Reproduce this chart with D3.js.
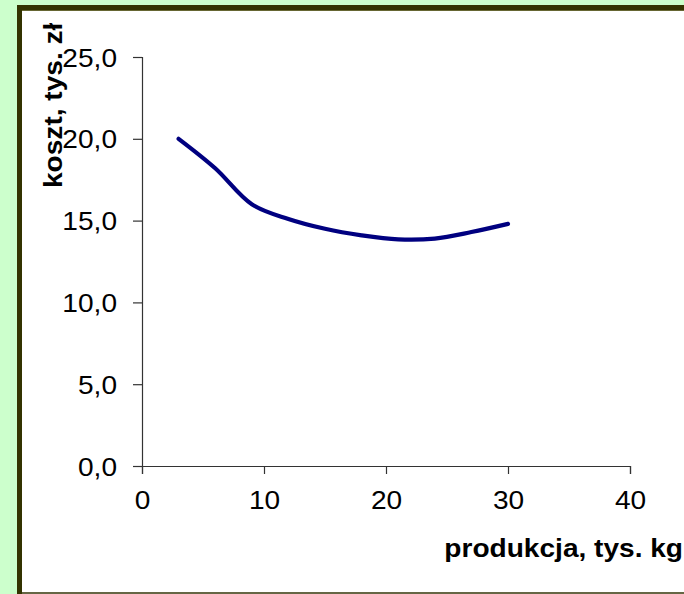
<!DOCTYPE html>
<html>
<head>
<meta charset="utf-8">
<script src="https://cdn.jsdelivr.net/npm/d3@7"></script>
<style>
  html, body { margin: 0; padding: 0; background: #ccffcc; }
  svg { display: block; }
  text { font-family: "Liberation Sans", Arial, sans-serif; fill: #000; }
</style>
</head>
<body>
<svg id="chart" width="684" height="594"></svg>
<script>
// ---- data ----
const production = [3, 6, 9, 12, 15, 18, 21, 24, 27, 30];
const cost = [20.0, 18.2, 16.0, 15.1, 14.5, 14.1, 13.85, 13.9, 14.3, 14.8];
const xTicks = [0, 10, 20, 30, 40];
const yTicks = [0, 5, 10, 15, 20, 25];
const xTitle = "produkcja, tys. kg";
const yTitle = "koszt, tys. zł";

const svg = d3.select("#chart");
const W = 684, H = 594;
const stretch = 1.08;
const fs = "26px";

// frame
svg.append("rect").attr("x", 0).attr("y", 0).attr("width", W).attr("height", H).attr("fill", "#ccffcc");
svg.append("rect").attr("x", 17).attr("y", 5).attr("width", W - 17).attr("height", H - 5).attr("fill", "#ffffff");
svg.append("rect").attr("x", 17).attr("y", 5).attr("width", 5).attr("height", H - 5).attr("fill", "#333300");
svg.append("rect").attr("x", 17).attr("y", 5).attr("width", W - 17).attr("height", 5).attr("fill", "#333300");
svg.append("rect").attr("x", 22).attr("y", 10).attr("width", W - 22).attr("height", 1).attr("fill", "#666633");
svg.append("rect").attr("x", 22).attr("y", 592).attr("width", W - 22).attr("height", 2).attr("fill", "#666644");

// scales
const x = d3.scaleLinear().domain([0, 40]).range([142, 630]);
const y = d3.scaleLinear().domain([0, 25]).range([466, 57]);
const fmt = v => d3.format(".1f")(v).replace(".", ",");

// y axis
const gy = svg.append("g").attr("transform", `translate(${x(0)},0)`)
  .call(d3.axisLeft(y).tickValues(yTicks).tickSize(9).tickFormat(fmt));
gy.select(".domain").attr("stroke", "#333").attr("stroke-width", 1.2);
gy.selectAll(".tick line").attr("stroke", "#333").attr("stroke-width", 1.2);
gy.selectAll(".tick text")
  .attr("x", 0).attr("dy", "0.35em")
  .attr("transform", `translate(-25,0) scale(${stretch},1)`)
  .attr("text-anchor", "end")
  .style("font-size", fs).style("font-family", "'Liberation Sans', Arial, sans-serif").attr("fill", "#000");

// x axis
const gx = svg.append("g").attr("transform", `translate(0,${y(0)})`)
  .call(d3.axisBottom(x).tickValues(xTicks).tickSize(8).tickFormat(d3.format("d")));
gx.select(".domain").attr("stroke", "#333").attr("stroke-width", 1.2);
gx.selectAll(".tick line").attr("stroke", "#333").attr("stroke-width", 1.2);
gx.selectAll(".tick text")
  .attr("y", 0).attr("dy", 0)
  .attr("transform", `translate(0,43) scale(${stretch},1)`)
  .attr("text-anchor", "middle")
  .style("font-size", fs).style("font-family", "'Liberation Sans', Arial, sans-serif").attr("fill", "#000");

// line
const line = d3.line()
  .x((d, i) => x(production[i]))
  .y(d => y(d))
  .curve(d3.curveCatmullRom.alpha(0.5));
svg.append("path")
  .datum(cost)
  .attr("d", line)
  .attr("fill", "none")
  .attr("stroke", "#000080")
  .attr("stroke-width", 4.2)
  .attr("stroke-linecap", "round")
  .attr("stroke-linejoin", "round");

// titles
svg.append("text")
  .attr("transform", `translate(683,557) scale(${stretch},1)`)
  .attr("text-anchor", "end")
  .style("font-size", fs).style("font-weight", "bold")
  .text(xTitle);

svg.append("text")
  .attr("transform", `translate(62,188) rotate(-90) scale(${stretch},1)`)
  .attr("text-anchor", "start")
  .style("font-size", fs).style("font-weight", "bold")
  .text(yTitle);
</script>
</body>
</html>
